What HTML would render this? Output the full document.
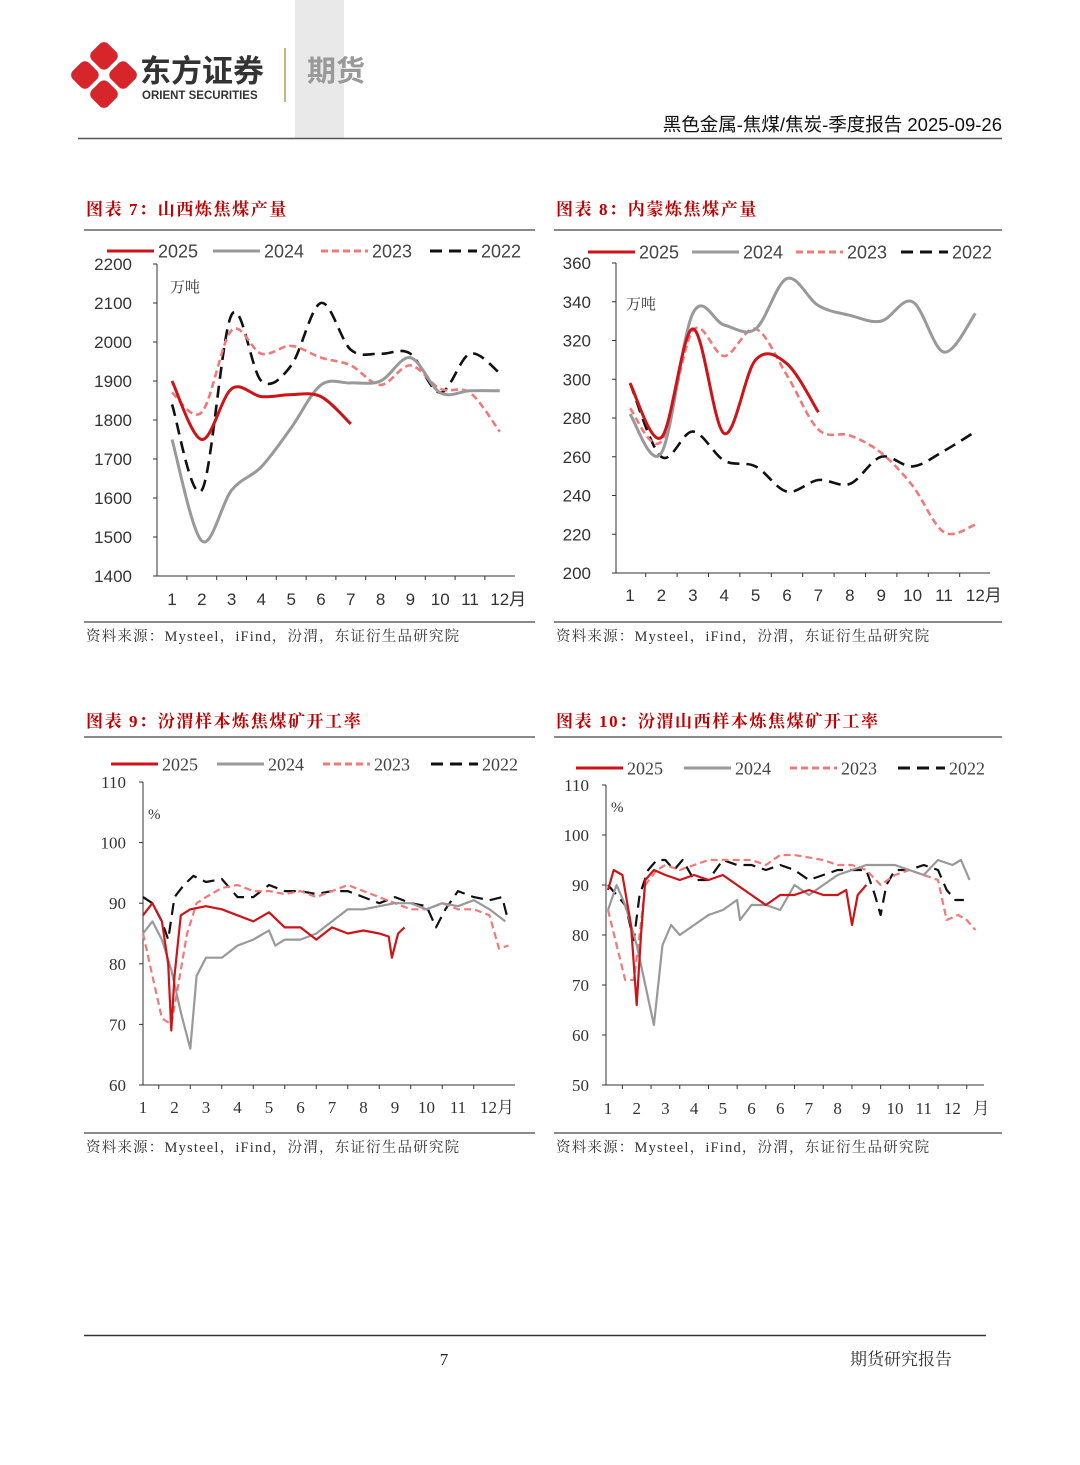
<!DOCTYPE html>
<html><head><meta charset="utf-8">
<style>
html,body{margin:0;padding:0;background:#fff;}
svg{display:block;}
.cn{font-family:"Liberation Serif","Noto Serif CJK SC","Noto Sans CJK SC",serif;}
.sans{font-family:"Liberation Sans","Noto Sans CJK SC",sans-serif;}
</style></head>
<body>
<svg id="page" width="1080" height="1465" viewBox="0 0 1080 1465" xmlns="http://www.w3.org/2000/svg">
  <rect x="295" y="0" width="49" height="138" fill="#e9e9e9"/>
  <g>
    <g transform="translate(104,75) rotate(45)">
      <rect x="-25" y="-25" width="23" height="23" rx="6" fill="#d7262b"/>
      <rect x="2" y="-25" width="23" height="23" rx="6" fill="#d7262b"/>
      <rect x="-25" y="2" width="23" height="23" rx="6" fill="#d7262b"/>
      <rect x="2" y="2" width="23" height="23" rx="6" fill="#d7262b"/>
    </g>
  </g>
  <text x="140" y="82" class="sans" font-size="31" font-weight="bold" fill="#333">东方证券</text>
  <text x="142" y="99" class="sans" font-size="11.5" font-weight="bold" fill="#333">ORIENT SECURITIES</text>
  <line x1="285" y1="48" x2="285" y2="102" stroke="#c9b48a" stroke-width="2"/>
  <text x="307" y="81" class="sans" font-size="29" font-weight="bold" fill="#999">期货</text>
  <text x="1002" y="131" text-anchor="end" class="sans" font-size="18.5" fill="#111">黑色金属-焦煤/焦炭-季度报告 2025-09-26</text>
  <line x1="78" y1="138.5" x2="1002" y2="138.5" stroke="#555" stroke-width="1.5"/>

  <g id="c1"></g>
  <g id="c2"></g>
  <g id="c3"></g>
  <g id="c4"></g>

  <line x1="84" y1="1335.5" x2="986" y2="1335.5" stroke="#333" stroke-width="1.5"/>
  <text x="444" y="1365" text-anchor="middle" class="cn" font-size="17" fill="#222">7</text>
  <text x="952" y="1365" text-anchor="end" class="cn" font-size="17" fill="#333">期货研究报告</text>
</svg>
<script>
// ---------- Chart 1 data (Shanxi, 万吨) ----------
const c1Ticks = [1400,1500,1600,1700,1800,1900,2000,2100,2200];
const c1XLabels = ['1','2','3','4','5','6','7','8','9','10','11','12月'];
const c1Months = [1,2,3,4,5,6,7,8,9,10,11,12];
const c1S2025 = [1900,1750,1880,1860,1865,1860,1790];
const c1S2024 = [1750,1490,1620,1680,1780,1890,1895,1900,1960,1870,1875,1875];
const c1S2023 = [1870,1820,2030,1970,1990,1960,1940,1890,1940,1880,1870,1770];
const c1S2022 = [1840,1620,2070,1900,1940,2100,1980,1970,1970,1870,1970,1920];
// ---------- Chart 2 data (Inner Mongolia, 万吨) ----------
const c2Ticks = [200,220,240,260,280,300,320,340,360];
const c2XLabels = ['1','2','3','4','5','6','7','8','9','10','11','12月'];
const c2Months = [1,2,3,4,5,6,7,8,9,10,11,12];
const c2S2025 = [298,270,326,272,310,308,283];
const c2S2024 = [282,262,334,328,326,352,338,333,330,340,314,334];
const c2S2023 = [285,268,325,312,326,302,274,271,262,245,221,225];
const c2S2022 = [298,260,273,258,255,242,248,246,260,255,263,273];
// ---------- Chart 3 data (Fenwei sample, %) ----------
const c3Ticks = [60,70,80,90,100,110];
const c3XLabels = ['1','2','3','4','5','6','7','8','9','10','11','12月'];
const c3X2025 = [1,1.3,1.6,1.8,1.9,2.0,2.2,2.5,3,3.5,4,4.5,5,5.5,6,6.5,7,7.5,8,8.5,8.8,8.9,9.1,9.3];
const c3S2025 = [88,90,87,80,69,78,88,89,89.5,89,88,87,88.5,86,86,84,86,85,85.5,85,84.5,81,85,86];
const c3X2024 = [1,1.3,1.6,1.9,2.2,2.5,2.7,3,3.5,4,4.5,5,5.2,5.5,6,6.5,7,7.5,8,8.5,9,9.5,10,10.5,11,11.5,12,12.5];
const c3S2024 = [85,87,84,79,72,66,78,81,81,83,84,85.5,83,84,84,85,87,89,89,89.5,90,90,89,90,89.5,90.5,89,87];
const c3X2023 = [1,1.3,1.6,1.9,2.1,2.4,2.7,3,3.5,4,4.5,5,5.5,6,6.5,7,7.5,8,8.5,9,9.5,10,10.5,11,11.5,12,12.3,12.6];
const c3S2023 = [85,78,71,70,76,85,90,91,92.5,93,92,92,91.5,92,91,92,93,92,91,90,89,89,90,89,89,88,82.5,83];
const c3X2022 = [1,1.3,1.6,1.8,2.0,2.3,2.6,3,3.5,4,4.5,5,5.5,6,6.5,7,7.5,8,8.5,9,9.5,10,10.3,10.6,11,11.5,12,12.4,12.6];
const c3S2022 = [91,90,87,84,91,93,94.5,93.5,94,91,91,93,92,92,91.5,92,92,91,90,91,90,89.5,86,89,92,91,90.5,91,87];
// ---------- Chart 4 data (Fenwei Shanxi sample, %) ----------
const c4Ticks = [50,60,70,80,90,100,110];
const c4XLabels = ['1','2','3','4','5','6','6','7','8','9','10','11','12','月'];
const c4X2025 = [1,1.2,1.5,1.8,2.0,2.15,2.3,2.6,3,3.5,4,4.5,5,5.5,6,6.5,7,7.5,8,8.5,9,9.3,9.5,9.7,10];
const c4S2025 = [89,93,92,82,66,80,91,93,92,91,92,91,92,90,88,86,88,88,89,88,88,89,82,88,90];
const c4X2024 = [1,1.3,1.6,2.0,2.3,2.6,2.9,3.2,3.5,4,4.5,5,5.5,5.6,6,6.5,7,7.5,8,8.5,9,9.5,10,10.5,11,11.5,12,12.5,13,13.3,13.6];
const c4S2024 = [85,90,86,78,70,62,78,82,80,82,84,85,87,83,86,86,85,90,88,90,92,93,94,94,94,93,92,95,94,95,91];
const c4X2023 = [1,1.3,1.6,1.9,2.1,2.3,2.7,3,3.5,4,4.5,5,5.5,6,6.5,7,7.5,8,8.5,9,9.5,10,10.5,11,11.5,12,12.5,12.8,13.2,13.5,13.8];
const c4S2023 = [85,78,71,71,80,90,93,94,93,94,95,95,95,95,94,96,96,95.5,95,94,94,93,90,92,93,92,91,83,84,83,81];
const c4X2022 = [1,1.3,1.6,1.9,2.1,2.4,2.7,3,3.3,3.6,4,4.5,5,5.5,6,6.5,7,7.5,8,8.5,9,9.5,10,10.3,10.5,10.7,11,11.5,12,12.5,12.8,13.1,13.4];
const c4S2022 = [90,88,86,79,88,93,95,95,93,95,91,91,95,94,94,93,94,93,91,92,93,93,93,88,84,90,93,93,94,93,89,87,87];

const NS='http://www.w3.org/2000/svg';
const SER = {
  s2025:{color:'#cc1419',w:3,dash:null,label:'2025'},
  s2024:{color:'#999999',w:3,dash:null,label:'2024'},
  s2023:{color:'#f07a7a',w:2.6,dash:'7,4',label:'2023'},
  s2022:{color:'#111111',w:2.6,dash:'12,7',label:'2022'}
};
function mk(parent, tag, attrs, text){
  const e=document.createElementNS(NS,tag);
  for(const k in attrs) e.setAttribute(k,attrs[k]);
  if(text!==undefined) e.textContent=text;
  parent.appendChild(e);
  return e;
}
function smoothPath(pts){
  let d='M'+pts[0][0].toFixed(1)+','+pts[0][1].toFixed(1);
  for(let i=0;i<pts.length-1;i++){
    const p0=pts[i-1]||pts[i],p1=pts[i],p2=pts[i+1],p3=pts[i+2]||p2;
    const c1=[p1[0]+(p2[0]-p0[0])/6,p1[1]+(p2[1]-p0[1])/6];
    const c2=[p2[0]-(p3[0]-p1[0])/6,p2[1]-(p3[1]-p1[1])/6];
    d+=' C'+c1[0].toFixed(1)+','+c1[1].toFixed(1)+' '+c2[0].toFixed(1)+','+c2[1].toFixed(1)+' '+p2[0].toFixed(1)+','+p2[1].toFixed(1);
  }
  return d;
}
function linePath(pts){return pts.map((p,i)=>(i?'L':'M')+p[0].toFixed(1)+','+p[1].toFixed(1)).join(' ');}

function drawChart(g,cfg){
  const font=cfg.serif?'Liberation Serif, Noto Serif CJK SC, serif':'Liberation Sans, Noto Sans CJK SC, sans-serif';
  const t=mk(g,'text',{x:cfg.fx,y:cfg.titleY,'font-size':17,'font-weight':'bold',fill:'#c00000',class:'cn','letter-spacing':'1.6'},cfg.title);
  
  
  const r1=mk(g,'line',{x1:cfg.fx-2,x2:cfg.fx2,y1:cfg.topRule,y2:cfg.topRule,stroke:'#444','stroke-width':1.2});
  
  
  const r2=mk(g,'line',{x1:cfg.fx-2,x2:cfg.fx2,y1:cfg.botRule,y2:cfg.botRule,stroke:'#444','stroke-width':1.2});
  
  
  const src=mk(g,'text',{x:cfg.fx,y:cfg.botRule+19,'font-size':14.5,fill:'#333',class:'cn','letter-spacing':'1.2'},'资料来源：Mysteel，iFind，汾渭，东证衍生品研究院');
  
  

  const ymin=cfg.ticks[0],ymax=cfg.ticks[cfg.ticks.length-1];
  const Y=v=>cfg.yBot-(v-ymin)/(ymax-ymin)*(cfg.yBot-cfg.yTop);
  const X=v=>cfg.x1+(v-1)*cfg.step;
  const ya=mk(g,'line',{x1:cfg.ax,x2:cfg.ax,y1:cfg.yTop,y2:cfg.yBot,stroke:'#333','stroke-width':1});
  
  
  const xa=mk(g,'line',{x1:cfg.ax,x2:cfg.axEnd,y1:cfg.yBot,y2:cfg.yBot,stroke:'#333','stroke-width':1});
  
  
  cfg.ticks.forEach(v=>{
    mk(g,'line',{x1:cfg.ax-4,x2:cfg.ax,y1:Y(v),y2:Y(v),stroke:'#333'});
    const tl=mk(g,'text',{x:cfg.ax-cfg.yLabOff,y:Y(v)+6,'text-anchor':'end','font-size':cfg.fs,fill:'#333','font-family':font},String(v));
    
    
  });
  cfg.xLabels.forEach((l,i)=>{
    const xv=X(i+1);
    if(i>0) mk(g,'line',{x1:xv-cfg.step/2,x2:xv-cfg.step/2,y1:cfg.yBot,y2:cfg.yBot+4,stroke:'#333'});
    const isM=l.length>1&&l.endsWith('月');
    const xl=mk(g,'text',{x:isM?xv-(cfg.fs*0.56):xv,y:cfg.yBot+cfg.xLabOff,'text-anchor':isM?'start':'middle','font-size':cfg.fs,fill:'#333','font-family':font+', Noto Sans CJK SC'},l);
    
    
  });
  const u=mk(g,'text',{x:cfg.unitX,y:cfg.unitY,'font-size':15,fill:'#333',class:'cn'},cfg.unit);
  
  
  cfg.legend.forEach(([key,lx])=>{
    const s=SER[key];
    const le=mk(g,'g',{});
    
    
    const a={x1:lx,x2:lx+47,y1:cfg.legY,y2:cfg.legY,stroke:s.color,'stroke-width':3};
    if(s.dash) a['stroke-dasharray']=s.dash;
    mk(le,'line',a);
    mk(le,'text',{x:lx+51,y:cfg.legY+6.5,'font-size':cfg.fs+1,fill:'#444','font-family':font},s.label);
  });
  ['s2022','s2023','s2024','s2025'].forEach(key=>{
    const s=SER[key];const sd=cfg.series[key];
    const pts=sd.y.map((v,i)=>[X(sd.x[i]),Y(v)]);
    const a={d:cfg.smooth?smoothPath(pts):linePath(pts),fill:'none',stroke:s.color,'stroke-width':cfg.smooth?s.w:2.2,'stroke-linejoin':'round','stroke-linecap':'butt'};
    if(s.dash) a['stroke-dasharray']=s.dash;
    const p=mk(g,'path',a);
    
    
  });
}

drawChart(document.getElementById('c1'),{
  title:'图表 7：山西炼焦煤产量',fx:86,fx2:535,titleY:215,topRule:230,botRule:622,
  ticks:c1Ticks,xLabels:c1XLabels,yTop:264,yBot:576,ax:157,axEnd:515,x1:172,step:29.8,
  yLabOff:25,xLabOff:29,fs:17,serif:false,smooth:true,unit:'万吨',unitX:170,unitY:292,
  legY:251,legend:[['s2025',107],['s2024',213],['s2023',321],['s2022',430]],
  series:{s2025:{x:c1Months,y:c1S2025},s2024:{x:c1Months,y:c1S2024},s2023:{x:c1Months,y:c1S2023},s2022:{x:c1Months,y:c1S2022}}
});
drawChart(document.getElementById('c2'),{
  title:'图表 8：内蒙炼焦煤产量',fx:556,fx2:1002,titleY:215,topRule:230,botRule:622,
  ticks:c2Ticks,xLabels:c2XLabels,yTop:263,yBot:573,ax:616,axEnd:990,x1:630,step:31.4,
  yLabOff:25,xLabOff:28,fs:17,serif:false,smooth:true,unit:'万吨',unitX:626,unitY:309,
  legY:252,legend:[['s2025',588],['s2024',692],['s2023',796],['s2022',901]],
  series:{s2025:{x:c2Months,y:c2S2025},s2024:{x:c2Months,y:c2S2024},s2023:{x:c2Months,y:c2S2023},s2022:{x:c2Months,y:c2S2022}}
});
drawChart(document.getElementById('c3'),{
  title:'图表 9：汾渭样本炼焦煤矿开工率',fx:86,fx2:535,titleY:727,topRule:737,botRule:1133,
  ticks:c3Ticks,xLabels:c3XLabels,yTop:782,yBot:1085,ax:143,axEnd:515,x1:143,step:31.5,
  yLabOff:17,xLabOff:28,fs:17,serif:true,smooth:false,unit:'%',unitX:148,unitY:819,
  legY:764,legend:[['s2025',111],['s2024',217],['s2023',323],['s2022',431]],
  series:{s2025:{x:c3X2025,y:c3S2025},s2024:{x:c3X2024,y:c3S2024},s2023:{x:c3X2023,y:c3S2023},s2022:{x:c3X2022,y:c3S2022}}
});
drawChart(document.getElementById('c4'),{
  title:'图表 10：汾渭山西样本炼焦煤矿开工率',fx:556,fx2:1002,titleY:727,topRule:737,botRule:1133,
  ticks:c4Ticks,xLabels:c4XLabels,yTop:785,yBot:1085,ax:606,axEnd:984,x1:608,step:28.7,
  yLabOff:17,xLabOff:29,fs:17,serif:true,smooth:false,unit:'%',unitX:611,unitY:812,
  legY:768,legend:[['s2025',576],['s2024',684],['s2023',790],['s2022',898]],
  series:{s2025:{x:c4X2025,y:c4S2025},s2024:{x:c4X2024,y:c4S2024},s2023:{x:c4X2023,y:c4S2023},s2022:{x:c4X2022,y:c4S2022}}
});
</script>
</body></html>
